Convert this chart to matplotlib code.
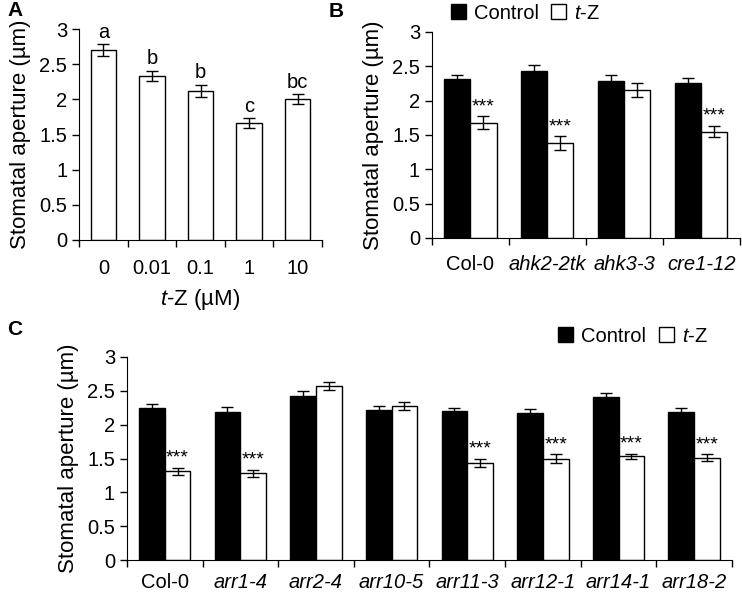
import numpy as np
import matplotlib
matplotlib.use("Agg")
import matplotlib.pyplot as plt
from matplotlib.patches import Patch

plt.rcParams['font.family'] = ['Liberation Sans', 'DejaVu Sans']
plt.rcParams['mathtext.fontset'] = 'custom'
plt.rcParams['mathtext.rm'] = 'Liberation Sans'
plt.rcParams['mathtext.it'] = 'Liberation Sans:italic'

# Panel A: dose response
doses = ['0', '0.01', '0.1', '1', '10']
a_vals = [2.70, 2.33, 2.12, 1.66, 2.00]
a_err = [0.08, 0.07, 0.08, 0.07, 0.07]
a_letters = ['a', 'b', 'b', 'c', 'bc']

# Panel B: receptor mutants
b_lines = ['Col-0', 'ahk2-2tk', 'ahk3-3', 'cre1-12']
b_italic = [False, True, True, True]
b_ctrl = [2.31, 2.43, 2.28, 2.26]
b_ctrl_err = [0.07, 0.09, 0.09, 0.07]
b_tz = [1.68, 1.38, 2.15, 1.55]
b_tz_err = [0.09, 0.10, 0.10, 0.08]
b_sig = ['***', '***', '', '***']

# Panel C: type-B ARR mutants
c_lines = ['Col-0', 'arr1-4', 'arr2-4', 'arr10-5', 'arr11-3', 'arr12-1', 'arr14-1', 'arr18-2']
c_italic = [False, True, True, True, True, True, True, True]
c_ctrl = [2.24, 2.19, 2.42, 2.21, 2.20, 2.17, 2.41, 2.19]
c_ctrl_err = [0.06, 0.07, 0.08, 0.06, 0.05, 0.06, 0.06, 0.06]
c_tz = [1.31, 1.28, 2.57, 2.27, 1.43, 1.50, 1.53, 1.51]
c_tz_err = [0.05, 0.05, 0.06, 0.06, 0.06, 0.06, 0.04, 0.05]
c_sig = ['***', '***', '', '', '***', '***', '***', '***']

FS = 14.5
YLAB = 16
STAR = 14
ebkw = dict(ecolor='black', elinewidth=1.0, capsize=4.5, capthick=1.0)


def style_axis(ax, n):
    ax.set_xlim(-0.5, n - 0.5)
    ax.set_ylim(0, 3)
    ax.set_yticks(np.arange(0, 3.01, 0.5))
    ax.set_yticklabels(['0', '0.5', '1', '1.5', '2', '2.5', '3'])
    ax.spines['top'].set_visible(False)
    ax.spines['right'].set_visible(False)
    ax.spines['left'].set_bounds(0, 3)
    ax.set_xticks(np.arange(-0.5, n, 1.0))
    ax.set_xticklabels([])
    ax.tick_params(axis='both', which='major', direction='out', length=5, width=1,
                   labelsize=FS)
    ax.set_ylabel('Stomatal aperture (µm)', fontsize=YLAB, labelpad=6)


def set_names(ax, names, italic, pad):
    ax.set_xticks(np.arange(len(names)), minor=True)
    ax.set_xticklabels(names, minor=True, fontsize=FS)
    for lab, it in zip(ax.get_xticklabels(minor=True), italic):
        if it:
            lab.set_style('italic')
    ax.tick_params(axis='x', which='minor', length=0, pad=pad)


fig = plt.figure(figsize=(7.42, 5.92), dpi=100)

# ---- A ----
axA = fig.add_axes([0.1065, 0.5946, 0.3275, 0.3564])
xa = np.arange(len(doses))
axA.bar(xa, a_vals, width=0.52, color='white', edgecolor='black', linewidth=1)
axA.errorbar(xa, a_vals, yerr=a_err, fmt='none', **ebkw)
for x, v, e, t in zip(xa, a_vals, a_err, a_letters):
    axA.text(x, v + e + 0.04, t, ha='center', va='bottom', fontsize=FS)
style_axis(axA, len(doses))
set_names(axA, doses, [False] * 5, 14)
axA.set_xlabel(r'$\it{t}$-Z (µM)', fontsize=YLAB, labelpad=6)

# ---- B ----
w = 0.34
axB = fig.add_axes([0.582, 0.598, 0.415, 0.348])
xb = np.arange(len(b_lines))
axB.bar(xb - w / 2, b_ctrl, width=w, color='black', edgecolor='black', linewidth=1)
axB.bar(xb + w / 2, b_tz, width=w, color='white', edgecolor='black', linewidth=1)
axB.errorbar(xb - w / 2, b_ctrl, yerr=b_ctrl_err, fmt='none', **ebkw)
axB.errorbar(xb + w / 2, b_tz, yerr=b_tz_err, fmt='none', **ebkw)
for x, v, e, s in zip(xb, b_tz, b_tz_err, b_sig):
    if s:
        axB.text(x + w / 2, v + e + 0.02, s, ha='center', va='bottom', fontsize=STAR)
style_axis(axB, len(b_lines))
set_names(axB, b_lines, b_italic, 12)

handles = [Patch(facecolor='black', edgecolor='black', label='Control'),
           Patch(facecolor='white', edgecolor='black', label=r'$\it{t}$-Z')]
fig.legend(handles=handles, loc='center', bbox_to_anchor=(0.708, 0.978), ncol=2,
           frameon=False, fontsize=FS, handlelength=0.75, handleheight=0.75,
           handletextpad=0.4, columnspacing=0.6)

# ---- C ----
axC = fig.add_axes([0.171, 0.054, 0.8155, 0.343])
xc = np.arange(len(c_lines))
axC.bar(xc - w / 2, c_ctrl, width=w, color='black', edgecolor='black', linewidth=1)
axC.bar(xc + w / 2, c_tz, width=w, color='white', edgecolor='black', linewidth=1)
axC.errorbar(xc - w / 2, c_ctrl, yerr=c_ctrl_err, fmt='none', **ebkw)
axC.errorbar(xc + w / 2, c_tz, yerr=c_tz_err, fmt='none', **ebkw)
for x, v, e, s in zip(xc, c_tz, c_tz_err, c_sig):
    if s:
        axC.text(x + w / 2, v + e + 0.02, s, ha='center', va='bottom', fontsize=STAR)
style_axis(axC, len(c_lines))
set_names(axC, c_lines, c_italic, 9)
fig.legend(handles=handles, loc='center', bbox_to_anchor=(0.853, 0.432), ncol=2,
           frameon=False, fontsize=FS, handlelength=0.75, handleheight=0.75,
           handletextpad=0.4, columnspacing=0.6)

# panel letters
fig.text(0.010, 0.983, 'A', fontsize=15, fontweight='bold', va='center')
fig.text(0.443, 0.980, 'B', fontsize=15, fontweight='bold', va='center')
fig.text(0.010, 0.443, 'C', fontsize=15, fontweight='bold', va='center')

fig.savefig('out.png', dpi=100)
